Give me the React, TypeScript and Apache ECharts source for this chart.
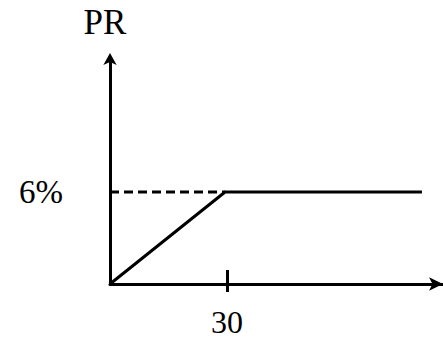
import React, { useEffect, useRef } from "react";
import * as echarts from "echarts";

const xTicks = [30];
const yTicks = [6];
const rampData = [
  [0, 0],
  [29.5, 6],
  [80, 6],
];
const dashData = [
  [0, 6],
  [29.5, 6],
];

export default function App() {
  const ref = useRef<HTMLDivElement>(null);
  useEffect(() => {
    const chart = echarts.init(ref.current!, null, { renderer: "svg" });
    const font = "'Liberation Serif', 'Times New Roman', serif";
    const black = "#000";
    chart.setOption({
      animation: false,
      grid: { left: 110, right: 0, top: 58, bottom: 57 },
      xAxis: [
        {
          type: "value",
          min: 0,
          max: 85.4,
          position: "bottom",
          offset: 0,
          splitLine: { show: false },
          axisLine: {
            show: true,
            lineStyle: { color: black, width: 3 },
            symbol: ["none", "arrow"],
            symbolSize: [10, 14],
          },
          axisTick: {
            show: true,
            customValues: xTicks,
            length: 8,
            lineStyle: { color: black, width: 3 },
          },
          axisLabel: {
            customValues: xTicks,
            fontSize: 32,
            fontFamily: font,
            color: black,
            margin: 22,
          },
        },
        {
          type: "value",
          min: 0,
          max: 85.4,
          position: "bottom",
          offset: 0,
          splitLine: { show: false },
          axisLine: { show: false },
          axisTick: {
            show: true,
            inside: true,
            customValues: xTicks,
            length: 14,
            lineStyle: { color: black, width: 3 },
          },
          axisLabel: { show: false },
        },
      ],
      yAxis: {
        type: "value",
        min: 0,
        max: 14.74,
        name: "PR",
        nameLocation: "end",
        nameGap: 18,
        nameTextStyle: {
          fontSize: 35,
          fontFamily: font,
          color: black,
          padding: [0, 10, 0, 0],
        },
        splitLine: { show: false },
        axisLine: {
          show: true,
          lineStyle: { color: black, width: 3 },
          symbol: ["none", "arrow"],
          symbolSize: [10, 12],
          symbolOffset: [0, 5],
        },
        axisTick: { show: false },
        axisLabel: {
          customValues: yTicks,
          formatter: "{value}%",
          fontSize: 33,
          fontFamily: font,
          color: black,
          margin: 47,
          padding: [10, 0, 0, 0],
        },
      },
      series: [
        {
          type: "line",
          data: dashData,
          symbol: "none",
          lineStyle: { color: black, width: 3, type: [9, 5] },
          z: 2,
        },
        {
          type: "line",
          data: rampData,
          symbol: "none",
          lineStyle: { color: black, width: 3 },
          z: 3,
        },
      ],
    });
    return () => chart.dispose();
  }, []);
  return (
    <div
      ref={ref}
      style={{ position: "fixed", left: 0, top: 0, width: 443, height: 341, background: "#fff" }}
    />
  );
}
